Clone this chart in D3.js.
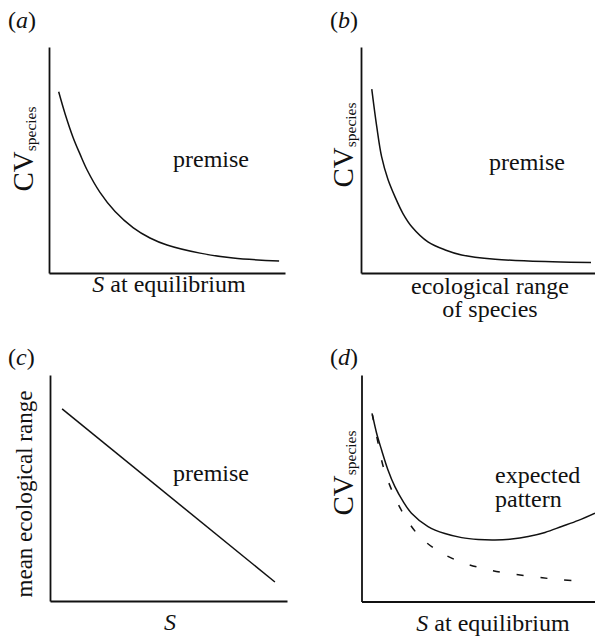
<!DOCTYPE html>
<html><head><meta charset="utf-8">
<script src="https://cdn.jsdelivr.net/npm/d3@7"></script>
</head><body style="margin:0;background:#fff">
<script>
// ---- data (normalised 0..1 on both axes; conceptual curves) ----
const panelIds = ["a", "b", "c", "d"];
const xAxisLabels = [["S at equilibrium"], ["ecological range", "of species"], ["S"], ["S at equilibrium"]];
const yAxisLabels = ["CV_species", "CV_species", "mean ecological range", "CV_species"];
const noteLabels = [["premise"], ["premise"], ["premise"], ["expected", "pattern"]];

const curveA_x = [0.041, 0.068, 0.102, 0.131, 0.161, 0.216, 0.280, 0.356, 0.428, 0.500, 0.640, 0.780, 0.975];
const curveA_y = [0.802, 0.705, 0.600, 0.527, 0.457, 0.357, 0.272, 0.201, 0.155, 0.124, 0.088, 0.066, 0.053];

const curveB_x = [0.046, 0.067, 0.088, 0.115, 0.145, 0.180, 0.217, 0.286, 0.360, 0.430, 0.573, 0.714, 0.983];
const curveB_y = [0.814, 0.650, 0.515, 0.415, 0.338, 0.262, 0.205, 0.138, 0.102, 0.080, 0.061, 0.053, 0.046];

const lineC_x = [0.051, 0.949];
const lineC_y = [0.850, 0.084];

const solidD_x = [0.047, 0.065, 0.086, 0.113, 0.143, 0.178, 0.214, 0.285, 0.357, 0.429, 0.500, 0.571, 0.643, 0.714, 0.786, 0.857, 0.929, 1.0];
const solidD_y = [0.824, 0.742, 0.669, 0.582, 0.507, 0.442, 0.390, 0.331, 0.300, 0.282, 0.274, 0.272, 0.276, 0.287, 0.305, 0.331, 0.358, 0.390];

const dashD_x = [0.045, 0.071, 0.093, 0.129, 0.178, 0.243, 0.321, 0.421, 0.520, 0.622, 0.736, 0.850, 0.970];
const dashD_y = [0.831, 0.699, 0.596, 0.493, 0.390, 0.294, 0.228, 0.176, 0.146, 0.125, 0.110, 0.096, 0.088];

const zip = (xs, ys) => xs.map((x, i) => ({x, y: ys[i]}));

// ---- layout ----
const W = 595, H = 636;
const svg = d3.select("body").append("svg").attr("width", W).attr("height", H).style("display", "block");

const panels = [
  {left: 49, right: 285, top: 47, bottom: 273,
   series: [{pts: zip(curveA_x, curveA_y), dash: null}],
   tag: [8, 28], ylab: [33, 149], xlab: [169, 292], note: [211, 167, "middle"]},
  {left: 361, right: 595, top: 47, bottom: 273,
   series: [{pts: zip(curveB_x, curveB_y), dash: null}],
   tag: [330, 28], ylab: [353, 145], xlab: [490, 294], note: [527, 170, "middle"]},
  {left: 50, right: 287, top: 375, bottom: 601,
   series: [{pts: zip(lineC_x, lineC_y), dash: null, linear: true}],
   tag: [8, 365], ylab: [32, 494], xlab: [170, 630], note: [211, 481, "middle"]},
  {left: 361.5, right: 595, top: 375, bottom: 601.5,
   series: [{pts: zip(solidD_x, solidD_y), dash: null}, {pts: zip(dashD_x, dashD_y), dash: "7,17"}],
   tag: [330, 365], ylab: [353, 473], xlab: [493, 631], note: [495, 483, "start"]}
];

// every run of text is a tspan carrying its own font
function run(textSel, str, size, italic) {
  const t = textSel.append("tspan")
    .style("font-family", '"Liberation Serif"')
    .attr("font-size", size)
    .text(str);
  if (italic) t.style("font-style", "italic");
  return t;
}
function txt(sel, anchor) {
  const t = sel.append("text").attr("fill", "#111").style("font-family", '"Liberation Serif"');
  if (anchor && anchor !== "start") t.attr("text-anchor", anchor);
  return t;
}

panels.forEach((p, i) => {
  const g = svg.append("g");
  const x = d3.scaleLinear().domain([0, 1]).range([p.left, p.right]);
  const y = d3.scaleLinear().domain([0, 1]).range([p.bottom, p.top]);

  // axes (no ticks)
  g.append("g").attr("transform", `translate(0,${p.bottom})`)
    .call(d3.axisBottom(x).tickValues([]).tickSizeOuter(0))
    .call(s => s.select(".domain").attr("stroke", "#111").attr("stroke-width", 1.8));
  g.append("g").attr("transform", `translate(${p.left},0)`)
    .call(d3.axisLeft(y).tickValues([]).tickSizeOuter(0))
    .call(s => s.select(".domain").attr("stroke", "#111").attr("stroke-width", 1.8));

  // curves
  p.series.forEach(s => {
    const line = d3.line().x(d => x(d.x)).y(d => y(d.y))
      .curve(s.linear ? d3.curveLinear : d3.curveCatmullRom.alpha(0.5));
    g.append("path").attr("d", line(s.pts))
      .attr("fill", "none").attr("stroke", "#111").attr("stroke-width", 1.5)
      .attr("stroke-dasharray", s.dash);
  });

  // panel tag (a)
  const t = txt(g).attr("x", p.tag[0]).attr("y", p.tag[1]);
  run(t, "(", 24);
  run(t, panelIds[i], 24, true);
  run(t, ")", 24);

  // y label
  const yl = txt(g, "middle").attr("transform", `translate(${p.ylab[0]},${p.ylab[1]}) rotate(-90)`);
  const ylab = yAxisLabels[i];
  if (ylab.indexOf("_") >= 0) {
    const [main, sub] = ylab.split("_");
    run(yl, main, 29);
    run(yl, sub, 15.5).attr("dy", 3);
  } else {
    run(yl, ylab, 23);
  }

  // x label
  xAxisLabels[i].forEach((line, k) => {
    const xt = txt(g, "middle").attr("x", p.xlab[0]).attr("y", p.xlab[1] + k * 23);
    if (line.startsWith("S")) {
      run(xt, "S", 24, true);
      if (line.length > 1) run(xt, line.slice(1), 24);
    } else {
      run(xt, line, 24);
    }
  });

  // note
  noteLabels[i].forEach((line, k) => {
    const nt = txt(g, p.note[2]).attr("x", p.note[0]).attr("y", p.note[1] + k * 23.5);
    run(nt, line, 24);
  });
});
</script>
</body></html>
